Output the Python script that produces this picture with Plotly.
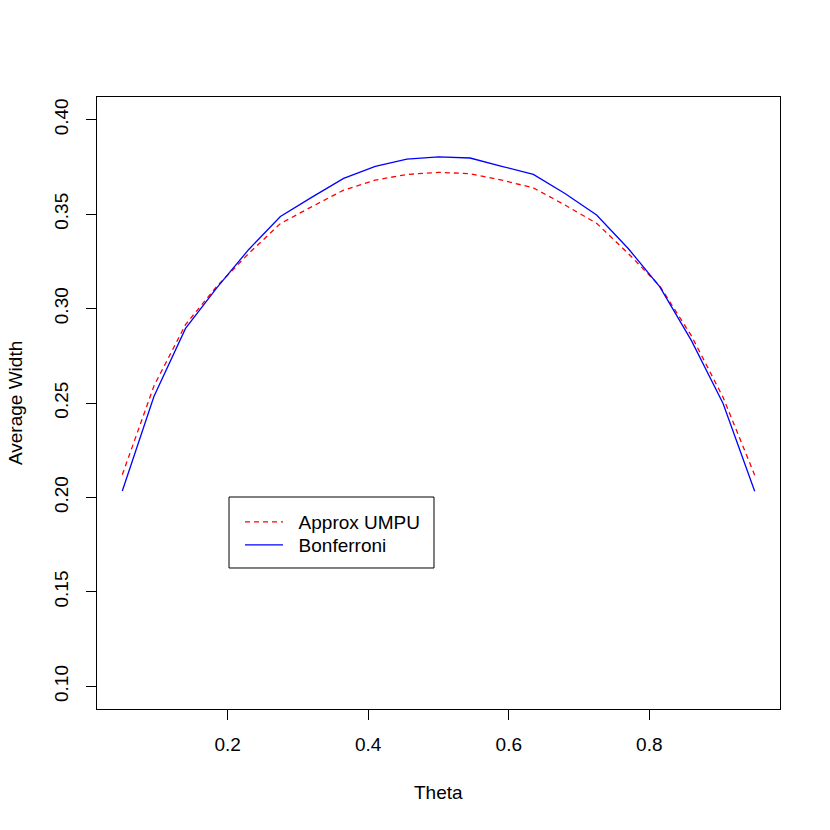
"""Average interval width by theta: approximate UMPU vs Bonferroni."""

import plotly.graph_objects as go

THETA = [0.05, 0.095, 0.14, 0.185, 0.23, 0.275, 0.32, 0.365, 0.41, 0.455, 0.5,
         0.545, 0.59, 0.635, 0.68, 0.725, 0.77, 0.815, 0.86, 0.905, 0.95]

APPROX_UMPU = [0.2120, 0.2590, 0.2915, 0.3120, 0.3292, 0.3450, 0.3540, 0.3627,
               0.3680, 0.3710, 0.3721, 0.3714, 0.3680, 0.3639, 0.3548, 0.3451,
               0.3292, 0.3119, 0.2855, 0.2530, 0.2118]

BONFERRONI = [0.2034, 0.2534, 0.2895, 0.3112, 0.3313, 0.3487, 0.3590, 0.3689,
              0.3753, 0.3791, 0.3803, 0.3797, 0.3753, 0.3710, 0.3609, 0.3495,
              0.3318, 0.3115, 0.2830, 0.2497, 0.2033]

X_TICKS = [0.2, 0.4, 0.6, 0.8]
Y_TICKS = [0.10, 0.15, 0.20, 0.25, 0.30, 0.35, 0.40]

FONT = "Liberation Sans, Arial, Helvetica, sans-serif"
TXT = dict(family=FONT, size=19, color="black")

fig = go.Figure()
fig.add_trace(go.Scatter(
    x=THETA, y=APPROX_UMPU, mode="lines", name="\u00a0\u00a0Approx UMPU",
    line=dict(color="#ff0000", width=1.3, dash="5px,4px"), legend="legend",
))
fig.add_trace(go.Scatter(
    x=THETA, y=BONFERRONI, mode="lines", name="\u00a0\u00a0Bonferroni",
    line=dict(color="#0000ff", width=1.3), legend="legend2",
))

axis_common = dict(
    showgrid=False, zeroline=False,
    showline=True, mirror=True, linecolor="black", linewidth=1,
    ticks="outside", ticklen=10, tickwidth=1, tickcolor="black",
    tickfont=TXT,
)

fig.update_xaxes(
    range=[0.014, 0.986], tickvals=X_TICKS, ticktext=[f"{v:.1f}" for v in X_TICKS],
    ticklabelstandoff=8, **axis_common,
)
fig.update_yaxes(
    range=[0.088, 0.412], tickvals=Y_TICKS, ticktext=[f"{v:.2f}" for v in Y_TICKS],
    tickangle=-90, ticklabelstandoff=10, **axis_common,
)

fig.add_annotation(text="Theta", xref="paper", yref="paper", x=0.5, y=-0.137,
                   showarrow=False, yanchor="middle", font=TXT)
fig.add_annotation(text="Average Width", xref="paper", yref="paper", x=-0.12, y=0.5,
                   showarrow=False, textangle=-90, xanchor="center", font=TXT)

# legend frame
fig.add_shape(type="rect", xref="paper", yref="paper",
              x0=0.1933, x1=0.4934, y0=0.2304, y1=0.3464,
              line=dict(color="black", width=1), fillcolor="white", layer="below")

leg_common = dict(xanchor="left", yanchor="middle", borderwidth=0,
                  bgcolor="rgba(0,0,0,0)", font=TXT, itemwidth=38)

fig.update_layout(
    width=830, height=830,
    margin=dict(l=89, r=58, t=89, b=129),
    paper_bgcolor="white", plot_bgcolor="white",
    showlegend=True,
    legend=dict(x=0.2094, y=0.3056, **leg_common),
    legend2=dict(x=0.2094, y=0.268, **leg_common),
)

fig.write_html("out.html")
